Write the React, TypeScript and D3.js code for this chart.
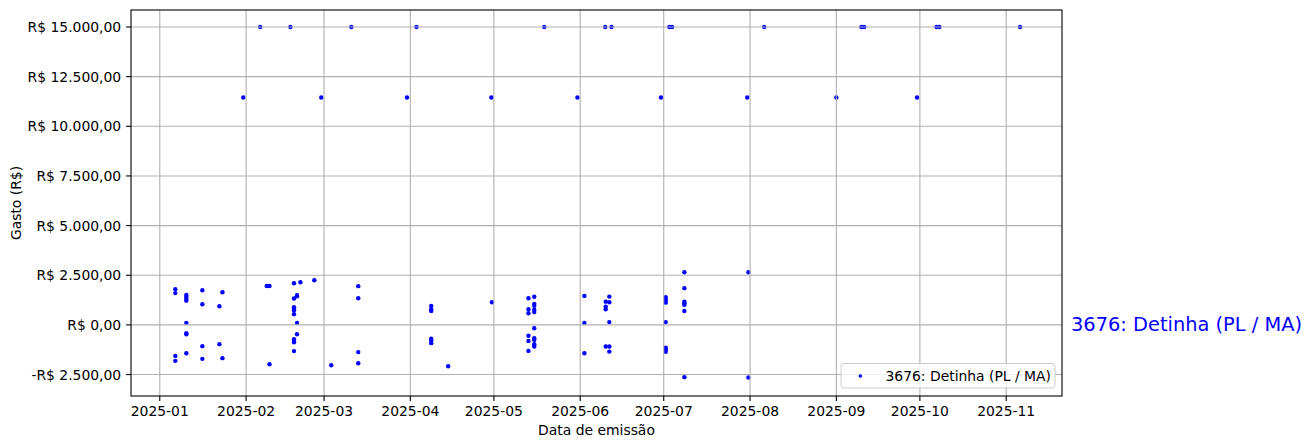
import React from "react";
import * as d3 from "d3";

// ---- data ----
const seriesName = "3676: Detinha (PL / MA)";

const dates: string[] = [
  "2025-01-06T14", "2025-01-06T14", "2025-01-06T14", "2025-01-06T14",
  "2025-01-10T13", "2025-01-10T13", "2025-01-10T13", "2025-01-10T13", "2025-01-10T13", "2025-01-10T13", "2025-01-10T13", "2025-01-10T13",
  "2025-01-16T07", "2025-01-16T07", "2025-01-16T07", "2025-01-16T07",
  "2025-01-22T10", "2025-01-22T10",
  "2025-01-23T12", "2025-01-23T12",
  "2025-01-31T00",
  "2025-02-06T02",
  "2025-02-08T10",
  "2025-02-09T10", "2025-02-09T10",
  "2025-02-16T22",
  "2025-02-18T05", "2025-02-18T05", "2025-02-18T05", "2025-02-18T05", "2025-02-18T05", "2025-02-18T05", "2025-02-18T05", "2025-02-18T05", "2025-02-18T05", "2025-02-18T05",
  "2025-02-19T07", "2025-02-19T07", "2025-02-19T07", "2025-02-19T07",
  "2025-02-20T12",
  "2025-02-25T12",
  "2025-02-28T00",
  "2025-03-03T14",
  "2025-03-10T19",
  "2025-03-13T07", "2025-03-13T07", "2025-03-13T07", "2025-03-13T07",
  "2025-03-30T19",
  "2025-04-03T05",
  "2025-04-08T12", "2025-04-08T12", "2025-04-08T12", "2025-04-08T12", "2025-04-08T12", "2025-04-08T12",
  "2025-04-14T14",
  "2025-04-30T02",
  "2025-04-30T07",
  "2025-05-13T10", "2025-05-13T10", "2025-05-13T10", "2025-05-13T10", "2025-05-13T10", "2025-05-13T10",
  "2025-05-15T12", "2025-05-15T12", "2025-05-15T12", "2025-05-15T12", "2025-05-15T12", "2025-05-15T12", "2025-05-15T12", "2025-05-15T12", "2025-05-15T12", "2025-05-15T12",
  "2025-05-19T02",
  "2025-05-31T00",
  "2025-06-02T12", "2025-06-02T12", "2025-06-02T12",
  "2025-06-10T00",
  "2025-06-10T04", "2025-06-10T04", "2025-06-10T04", "2025-06-10T04",
  "2025-06-11T11", "2025-06-11T11", "2025-06-11T11", "2025-06-11T11", "2025-06-11T11",
  "2025-06-12T06",
  "2025-06-30T00",
  "2025-07-01T17", "2025-07-01T17", "2025-07-01T17", "2025-07-01T17", "2025-07-01T17", "2025-07-01T17", "2025-07-01T17", "2025-07-01T17",
  "2025-07-03T00",
  "2025-07-04T00",
  "2025-07-08T10", "2025-07-08T10", "2025-07-08T10", "2025-07-08T10", "2025-07-08T10", "2025-07-08T10", "2025-07-08T10",
  "2025-07-31T00",
  "2025-07-31T10", "2025-07-31T10",
  "2025-08-06T02",
  "2025-09-01T00",
  "2025-09-10T00",
  "2025-09-11T00",
  "2025-09-30T00",
  "2025-10-07T00",
  "2025-10-08T00",
  "2025-11-06T00",
];

const values: number[] = [
  1800, 1600, -1560, -1810,
  1510, 1410, 1310, 1220, 100, -420, -470, -1430,
  1745, 1040, -1070, -1710,
  940, -970,
  1645, -1675,
  11450,
  15000,
  1960,
  1960, -1980,
  15000,
  2100, 1330, 890, 820, 740, 540, -720, -805, -870, -1320,
  1440, 1500, 100, -470,
  2150,
  2250,
  11450,
  -2030,
  15000,
  1950, 1340, -1370, -1930,
  11450,
  15000,
  960, 790, 700, -700, -790, -920,
  -2080,
  11450,
  1140,
  1340, 790, 590, -550, -805, -1310,
  1420, 1060, 960, 760, 650, -170, -670, -755, -970, -1090,
  15000,
  11450,
  1460, 100, -1430,
  15000,
  1170, 920, 790, -1090,
  1425, 1140, 140, -1090, -1345,
  15000,
  11450,
  1400, 1300, 1200, 1120, 140, -1150, -1250, -1350,
  15000,
  15000,
  2650, 1850, 1170, 1090, 1010, 700, -2630,
  11450,
  2650, -2650,
  15000,
  11450,
  15000,
  15000,
  11450,
  15000,
  15000,
  15000,
];

const yTicks: number[] = [-2500, 0, 2500, 5000, 7500, 10000, 12500, 15000];
const xTickMonths: string[] = [
  "2025-01", "2025-02", "2025-03", "2025-04", "2025-05", "2025-06",
  "2025-07", "2025-08", "2025-09", "2025-10", "2025-11",
];
// axis limits as shown in the reference
const xLimits: string[] = ["2024-12-21T16", "2025-11-21T01"];
const yLimits: number[] = [-3580, 15855];

const W = 1312;
const H = 448;
const FONT = "DejaVu Sans, sans-serif";
const BLUE = "#0000ff";

const brl = d3.formatLocale({
  decimal: ",",
  thousands: ".",
  grouping: [3],
  currency: ["R$ ", ""],
  minus: "-",
});
const fmtY = brl.format("$,.2f");
const fmtX = d3.utcFormat("%Y-%m");

export default function App() {
  const left = 131, right = 1062, top = 10, bottom = 396;
  const parse = d3.utcParse("%Y-%m-%dT%H");
  const pts = dates.map((d, i) => ({ x: parse(d) as Date, y: values[i] }));

  const x = d3
    .scaleUtc()
    .domain(xLimits.map((s) => parse(s) as Date))
    .range([left, right]);
  const y = d3.scaleLinear().domain(yLimits).range([bottom, top]);

  const parseM = d3.utcParse("%Y-%m");
  const xTicks = xTickMonths.map((m) => parseM(m) as Date);

  return (
    <svg width={W} height={H} style={{ position: "absolute", left: 0, top: 0, background: "#fff" }} fontFamily={FONT}>
      <rect x={0} y={0} width={W} height={H} fill="#fff" />
      {/* points (drawn below grid, as in matplotlib) */}
      <g>
        {pts.map((p, i) => (
          <circle key={i} cx={x(p.x)} cy={y(p.y)} r={2.2} fill={BLUE} />
        ))}
      </g>
      {/* grid */}
      <g stroke="#b0b0b0" strokeWidth={1.1}>
        {xTicks.map((t, i) => (
          <line key={"gx" + i} x1={x(t)} x2={x(t)} y1={top} y2={bottom} />
        ))}
        {yTicks.map((t, i) => (
          <line key={"gy" + i} x1={left} x2={right} y1={y(t)} y2={y(t)} />
        ))}
      </g>
      {/* ticks */}
      <g stroke="#000" strokeWidth={1.1}>
        {xTicks.map((t, i) => (
          <line key={"tx" + i} x1={x(t)} x2={x(t)} y1={bottom} y2={bottom + 4.9} />
        ))}
        {yTicks.map((t, i) => (
          <line key={"ty" + i} x1={left - 4.9} x2={left} y1={y(t)} y2={y(t)} />
        ))}
      </g>
      <g fontSize={13.9} fill="#000">
        {xTicks.map((t, i) => (
          <text key={"lx" + i} x={x(t)} y={bottom + 9.8} textAnchor="middle" dominantBaseline="hanging">
            {fmtX(t)}
          </text>
        ))}
        {yTicks.map((t, i) => (
          <text key={"ly" + i} x={left - 9.8} y={y(t)} textAnchor="end" dominantBaseline="central">
            {fmtY(t)}
          </text>
        ))}
      </g>
      {/* spines */}
      <rect x={left} y={top} width={right - left} height={bottom - top} fill="none" stroke="#000" strokeWidth={1.1} />
      {/* axis labels */}
      <text x={(left + right) / 2} y={430} fontSize={13.9} textAnchor="middle" dominantBaseline="central">
        Data de emissão
      </text>
      <text
        transform={`translate(16,${(top + bottom) / 2}) rotate(-90)`}
        fontSize={13.9}
        textAnchor="middle"
        dominantBaseline="central"
      >
        Gasto (R$)
      </text>
      {/* legend */}
      <g>
        <rect x={841} y={363.5} width={214} height={24.5} rx={3} ry={3} fill="#fff" fillOpacity={0.8} stroke="#cccccc" strokeWidth={1} />
        <circle cx={860.3} cy={376} r={1.8} fill={BLUE} />
        <text x={885.5} y={376} fontSize={13.9} dominantBaseline="central">
          {seriesName}
        </text>
      </g>
      {/* side label */}
      <text x={1071} y={y(0)} fontSize={19.4} fill={BLUE} dominantBaseline="central">
        {seriesName}
      </text>
    </svg>
  );
}
